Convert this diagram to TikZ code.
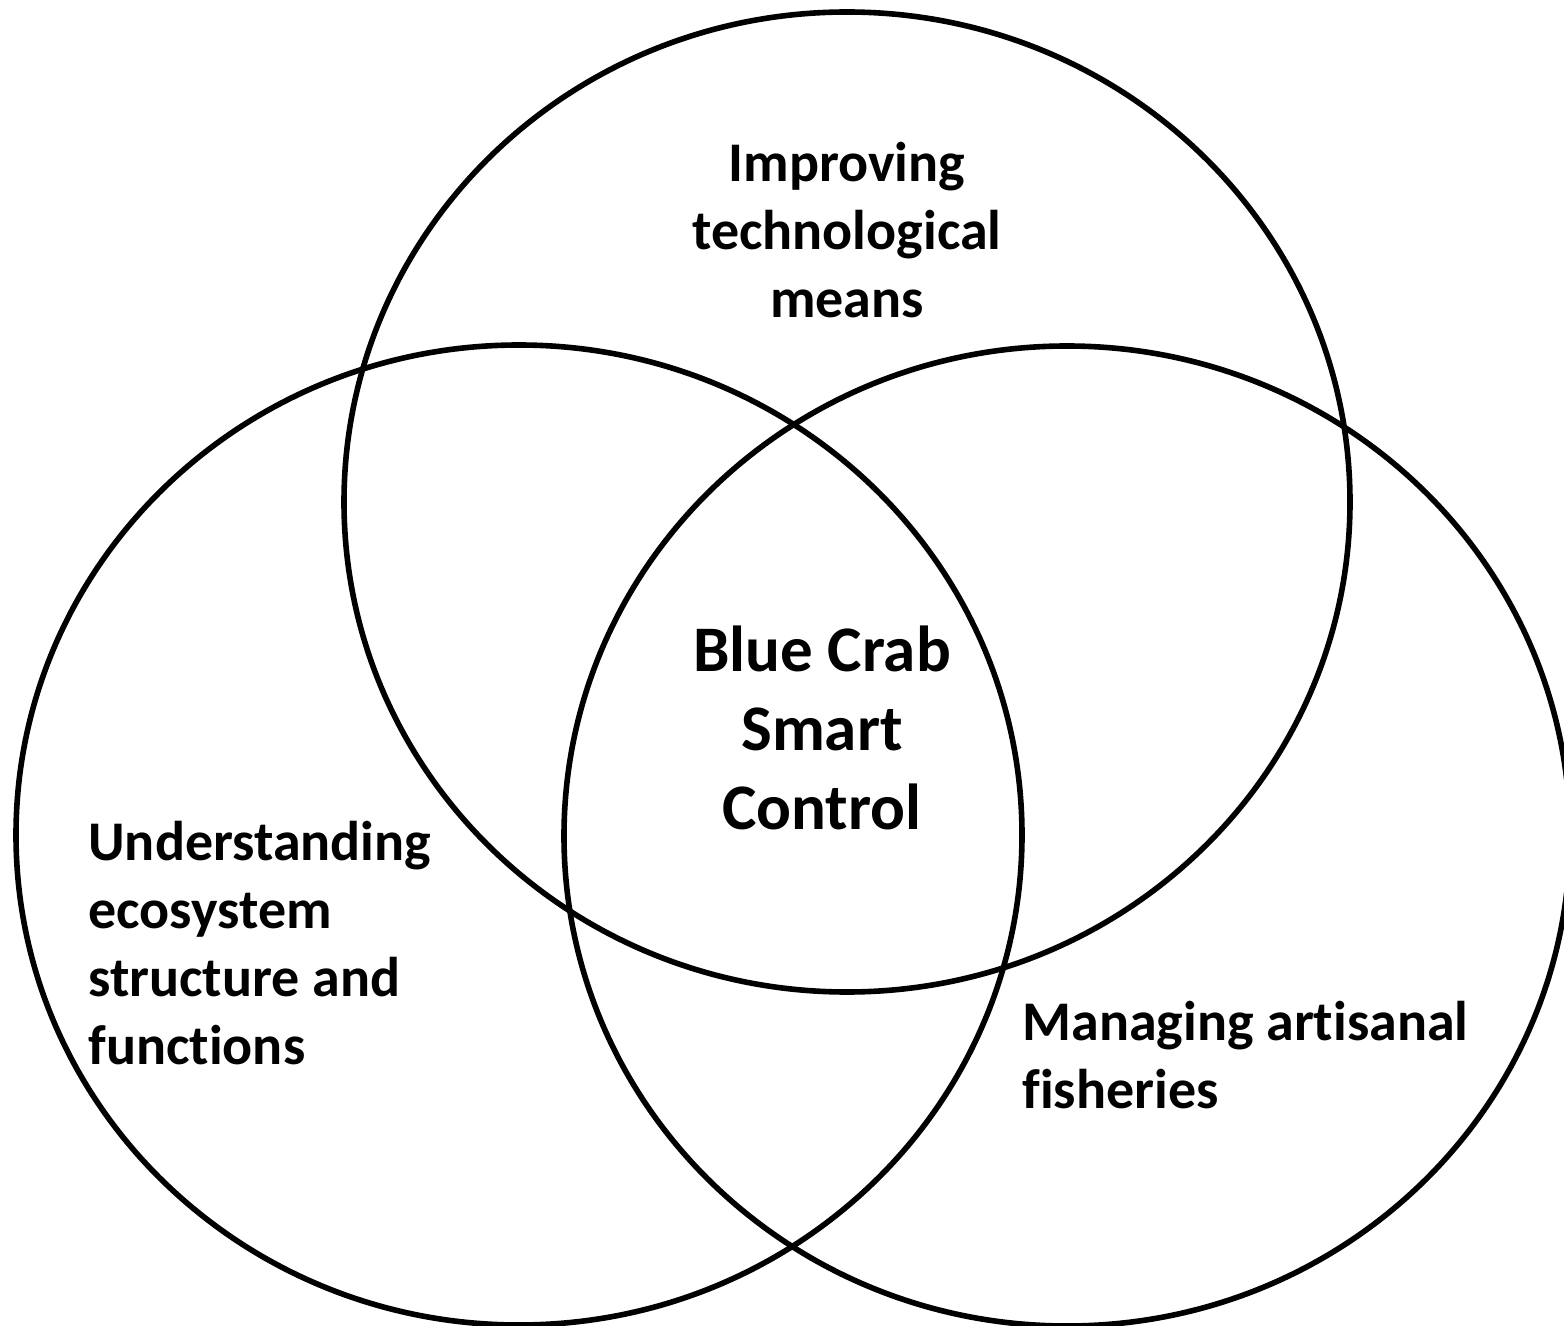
\documentclass[tikz,border=0pt]{standalone}
\usepackage{fontspec}
\setmainfont{Carlito}[Ligatures={NoCommon}]
\usetikzlibrary{shapes.geometric}

\tikzset{
  ring/.style={draw, ellipse, line width=2.8pt, inner sep=0pt,
    minimum width=503pt, minimum height=490pt},
  label/.style={font=\bfseries\fontsize{28}{34}\selectfont, inner sep=0pt},
  hub/.style={font=\bfseries\fontsize{32.5}{39.5}\selectfont, inner sep=0pt, align=center}
}

\begin{document}
\begin{tikzpicture}[x=0.5pt, y=-0.5pt]
		\useasboundingbox (0,0) rectangle (1564,1326);
		% the three circles
		\node[ring] (tech) at (847,502) {};
		\node[ring] (eco) at (519,835) {};
		\node[ring] (fish) at (1067,836) {};
		% labels
		\node[label, align=center] (techtxt) at (847,230) {Improving\\technological\\means};
		\node[label, align=left, anchor=west] (ecotxt) at (88,943) {Understanding\\ecosystem\\structure and\\functions};
		\node[label, align=left, anchor=west] (fishtxt) at (1022,1055) {Managing artisanal\\fisheries};
		\node[hub] (crab) at (822,728) {Blue Crab\\Smart\\Control};
	\end{tikzpicture}
\end{document}
